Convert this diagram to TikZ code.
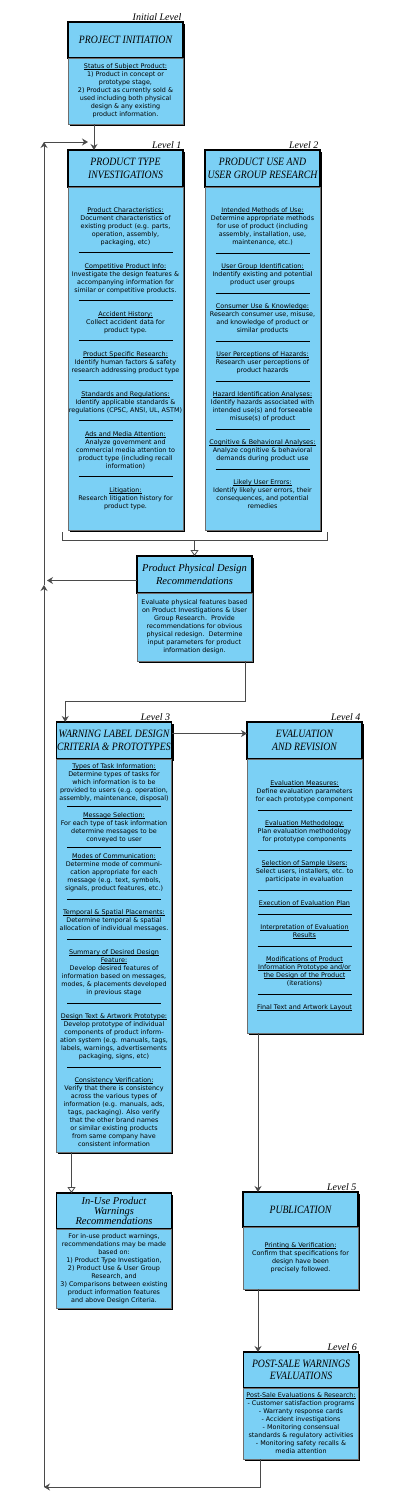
\documentclass[tikz,border=0pt]{standalone}
\usepackage{fontspec}
\setmainfont{DejaVu Sans}
\newfontfamily\headfont{Liberation Serif}
\newfontfamily\capfont[FakeStretch=0.87]{Liberation Serif}
\usepackage{tikz}
\usetikzlibrary{
  arrows.meta, positioning, calc, shadows
}
\definecolor{colSky}  {HTML}{7BD0F5}
\definecolor{colEdge} {HTML}{6E6E6E}
\definecolor{colWire} {HTML}{4A4A4A}
\tikzset{
  boxshadow/.style={
    drop shadow={shadow xshift=1.8pt, shadow yshift=-1.8pt, fill=black, opacity=1}
  },
  headbox/.style={
    draw=black, line width=1.1pt, fill=colSky, boxshadow,
    minimum width=115pt, minimum height=37pt, outer sep=0pt,
    inner sep=1pt, align=center,
    font=\capfont\itshape\fontsize{11.2}{12.6}\selectfont
  },
  lowhead/.style={headbox, font=\headfont\itshape\fontsize{10.5}{12.7}\selectfont},
  bodybox/.style={
    draw=colEdge, line width=0.6pt, fill=colSky, boxshadow,
    minimum width=115pt, outer sep=0pt,
    inner sep=1pt, align=center,
    font=\fontsize{6.4}{8}\selectfont
  },
  lvl/.style={
    anchor=south east, inner sep=1.5pt,
    font=\headfont\itshape\fontsize{10}{12}\selectfont
  },
  wire/.style={line width=0.8pt, draw=colWire},
  mainarr/.style={
    wire, -{Stealth[length=6pt,width=7pt,inset=2pt]}
  },
  openarr/.style={
    wire, -{Triangle[open,length=6pt,width=8pt,fill=white]}
  }
}
\newcommand{\subhead}[1]{%
  \setbox0\hbox{#1}\rlap{\rule[-1.0pt]{\wd0}{0.5pt}}\box0}
\newcommand{\divider}[1][7pt]{\\[1pt]\rule{94pt}{0.8pt}\\[#1]}
\newcommand{\tightdivider}{\\[-2pt]\rule{94pt}{0.8pt}\\[3pt]}

\begin{document}
\begin{tikzpicture}[x=1pt, y=-1pt]
  \useasboundingbox (0,0) rectangle (400,1510);

  %% ── Initial level: project initiation ─────────────────────────
  \node[headbox, minimum height=36pt] (pihead) at (125.5,40) {PROJECT INITIATION};
  \node[bodybox, minimum height=66pt, below=0pt of pihead] (pibody) {%
    \subhead{Status of Subject Product:}\\
    1) Product in concept or\\
    prototype stage,\\
    2) Product as currently sold \&\\
    used including both physical\\
    design \& any existing\\
    product information.};
  \node[lvl] at (pihead.north east) {Initial Level};

  %% ── Level 1: product type investigations ──────────────────────
  \node[headbox] (l1head) at (125.5,168.5) {PRODUCT TYPE\\INVESTIGATIONS};
  \node[bodybox, minimum height=343pt, below=0pt of l1head] (l1body) {%
    \subhead{Product Characteristics:}\\
    Document characteristics of\\
    existing product (e.g. parts,\\
    operation, assembly,\\
    packaging, etc)\divider
    \subhead{Competitive Product Info:}\\
    Investigate the design features \&\\
    accompanying information for\\
    similar or competitive products.\divider
    \subhead{Accident History:}\\
    Collect accident data for\\
    product type.\divider
    \subhead{Product Specific Research:}\\
    Identify human factors \& safety\\
    research addressing product type\divider
    \subhead{Standards and Regulations:}\\
    Identify applicable standards \&\\
    regulations (CPSC, ANSI, UL, ASTM)\divider
    \subhead{Ads and Media Attention:}\\
    Analyze government and\\
    commercial media attention to\\
    product type (including recall\\
    information)\divider
    \subhead{Litigation:}\\
    Research litigation history for\\
    product type.};
  \node[lvl] at (l1head.north east) {Level 1};

  %% ── Level 2: product use and user group research ──────────────
  \node[headbox] (l2head) at (262.5,168.5) {PRODUCT USE AND\\USER GROUP RESEARCH};
  \node[bodybox, minimum height=343pt, below=0pt of l2head] (l2body) {%
    \subhead{Intended Methods of Use:}\\
    Determine appropriate methods\\
    for use of product (including\\
    assembly, installation, use,\\
    maintenance, etc.)\divider
    \subhead{User Group Identification:}\\
    Indentify existing and potential\\
    product user groups\divider
    \subhead{Consumer Use \& Knowledge:}\\
    Research consumer use, misuse,\\
    and knowledge of product or\\
    similar products\divider
    \subhead{User Perceptions of Hazards:}\\
    Research user perceptions of\\
    product hazards\divider
    \subhead{Hazard Identification Analyses:}\\
    Identify hazards associated with\\
    intended use(s) and forseeable\\
    misuse(s) of product\divider
    \subhead{Cognitive \& Behavioral Analyses:}\\
    Analyze cognitive \& behavioral\\
    demands during product use\divider
    \subhead{Likely User Errors:}\\
    Identify likely user errors, their\\
    consequences, and potential\\
    remedies};
  \node[lvl] at (l2head.north east) {Level 2};

  %% ── Product physical design recommendations ───────────────────
  \node[lowhead] (ppdhead) at (194.5,574.5) {Product Physical Design\\Recommendations};
  \node[bodybox, minimum height=68pt, below=0pt of ppdhead] (ppdbody) {%
    Evaluate physical features based\\
    on Product Investigations \& User\\
    Group Research.\ \ Provide\\
    recommendations for obvious\\
    physical redesign.\ \ Determine\\
    input parameters for product\\
    information design.};

  %% ── Level 3: warning label design criteria ────────────────────
  \node[headbox] (l3head) at (114,740.5) {WARNING LABEL DESIGN\\CRITERIA \& PROTOTYPES};
  \node[bodybox, minimum height=393pt, below=0pt of l3head] (l3body) {%
    \subhead{Types of Task Information:}\\
    Determine types of tasks for\\
    which information is to be\\
    provided to users (e.g. operation,\\
    assembly, maintenance, disposal)\tightdivider
    \subhead{Message Selection:}\\
    For each type of task information\\
    determine messages to be\\
    conveyed to user\tightdivider
    \subhead{Modes of Communication:}\\
    Determine mode of communi-\\
    cation appropriate for each\\
    message (e.g. text, symbols,\\
    signals, product features, etc.)\divider
    \subhead{Temporal \& Spatial Placements:}\\
    Determine temporal \& spatial\\
    allocation of individual messages.\divider
    \subhead{Summary of Desired Design}\\
    \subhead{Feature:}\\
    Develop desired features of\\
    information based on messages,\\
    modes, \& placements developed\\
    in previous stage\divider
    \subhead{Design Text \& Artwork Prototype:}\\
    Develop prototype of individual\\
    components of product inform-\\
    ation system (e.g. manuals, tags,\\
    labels, warnings, advertisements\\
    packaging, signs, etc)\divider
    \subhead{Consistency Verification:}\\
    Verify that there is consistency\\
    across the various types of\\
    information (e.g. manuals, ads,\\
    tags, packaging). Also verify\\
    that the other brand names\\
    or similar existing products\\
    from same company have\\
    consistent information};
  \node[lvl] at (l3head.north east) {Level 3};

  %% ── Level 4: evaluation and revision ──────────────────────────
  \node[headbox] (l4head) at (304.5,740.5) {EVALUATION\\AND REVISION};
  \node[bodybox, minimum height=274pt, below=0pt of l4head] (l4body) {%
    \subhead{Evaluation Measures:}\\
    Define evaluation parameters\\
    for each prototype component\divider
    \subhead{Evaluation Methodology:}\\
    Plan evaluation methodology\\
    for prototype components\divider
    \subhead{Selection of Sample Users:}\\
    Select users, installers, etc. to\\
    participate in evaluation\divider
    \subhead{Execution of Evaluation Plan}\divider
    \subhead{Interpretation of Evaluation}\\
    \subhead{Results}\divider
    \subhead{Modifications of Product}\\
    \subhead{Information Prototype and/or}\\
    \subhead{the Design of the Product}\\
    (iterations)\divider
    \subhead{Final Text and Artwork Layout}};
  \node[lvl] at (l4head.north east) {Level 4};

  %% ── In-use product warnings ───────────────────────────────────
  \node[lowhead, minimum height=36pt,
        font=\headfont\itshape\fontsize{10.5}{10}\selectfont] (iuhead) at (114,1211)
        {In-Use Product\\Warnings\\Recommendations};
  \node[bodybox, minimum height=79pt, below=0pt of iuhead] (iubody) {%
    For in-use product warnings,\\
    recommendations may be made\\
    based on:\\
    1) Product Type Investigation,\\
    2) Product Use \& User Group\\
    Research, and\\
    3) Comparisons between existing\\
    product information features\\
    and above Design Criteria.};

  %% ── Level 5: publication ──────────────────────────────────────
  \node[headbox, minimum height=35pt] (l5head) at (300.5,1209.5) {PUBLICATION};
  \node[bodybox, minimum height=62pt, below=0pt of l5head] (l5body) {%
    \subhead{Printing \& Verification:}\\
    Confirm that specifications for\\
    design have been\\
    precisely followed.};
  \node[lvl] at (l5head.north east) {Level 5};

  %% ── Level 6: post-sale warnings evaluations ───────────────────
  \node[headbox, minimum height=36pt] (l6head) at (301,1370) {POST-SALE WARNINGS\\EVALUATIONS};
  \node[bodybox, minimum height=71pt, below=0pt of l6head] (l6body) {%
    \subhead{Post-Sale Evaluations \& Research:}\\
    - Customer satisfaction programs\\
    - Warranty response cards\\
    - Accident investigations\\
    - Monitoring consensual\\
    standards \& regulatory activities\\
    - Monitoring safety recalls \&\\
    media attention};
  \node[lvl] at (l6head.north east) {Level 6};

  %% ── Connectors ────────────────────────────────────────────────
  \draw[mainarr] ([xshift=26pt]pibody.south west) -- ([xshift=26pt]l1head.north west);

  % bracket under levels 1 and 2
  \coordinate (brk) at ($(l1body.south west)+(-6,10)$);
  \draw[wire] ($(l1body.south west)+(-6,2)$) -- (brk) -| ($(l2body.south east)+(7,2)$);
  \draw[openarr] (brk -| ppdhead.north) -- (ppdhead.north);

  % design recommendations to level 3, level 3 to level 4
  \coordinate (l3turn) at ($(l3head.north west)+(9,-21)$);
  \draw[mainarr] ([xshift=-7pt]ppdbody.south east) |- (l3turn) -- (l3turn |- l3head.north);
  \draw[mainarr] ([yshift=7pt]l3head.east) -- ([yshift=7pt]l4head.west);
  \draw[openarr] ([xshift=15pt]l3body.south west) -- ([xshift=15pt]iuhead.north west);

  % level 4 to 5 to 6
  \coordinate (l4drop) at ([xshift=11pt]l4body.south west);
  \draw[mainarr] (l4drop) -- (l4drop |- l5head.north);
  \coordinate (l5drop) at ([xshift=15pt]l5body.south west);
  \draw[mainarr] (l5drop) -- (l5drop |- l6head.north);

  % feedback loop back to level 1
  \coordinate (loopbl)  at (44,1487);
  \coordinate (loopmid) at (44,585);
  \coordinate (looptl)  at (44,142);
  \draw[mainarr] ([xshift=17pt]l6body.south west) |- (loopbl);
  \draw[mainarr] (loopbl) -- (loopmid);
  \draw[mainarr] (loopmid) -- (looptl);
  \draw[mainarr] (looptl) -- ($(looptl -| l1head.west)+(20,0)$);
  \draw[mainarr, shorten >=3pt] ([yshift=-6pt]ppdhead.west) -- ([yshift=-6pt]ppdhead.west -| loopmid);
\end{tikzpicture}
\end{document}
